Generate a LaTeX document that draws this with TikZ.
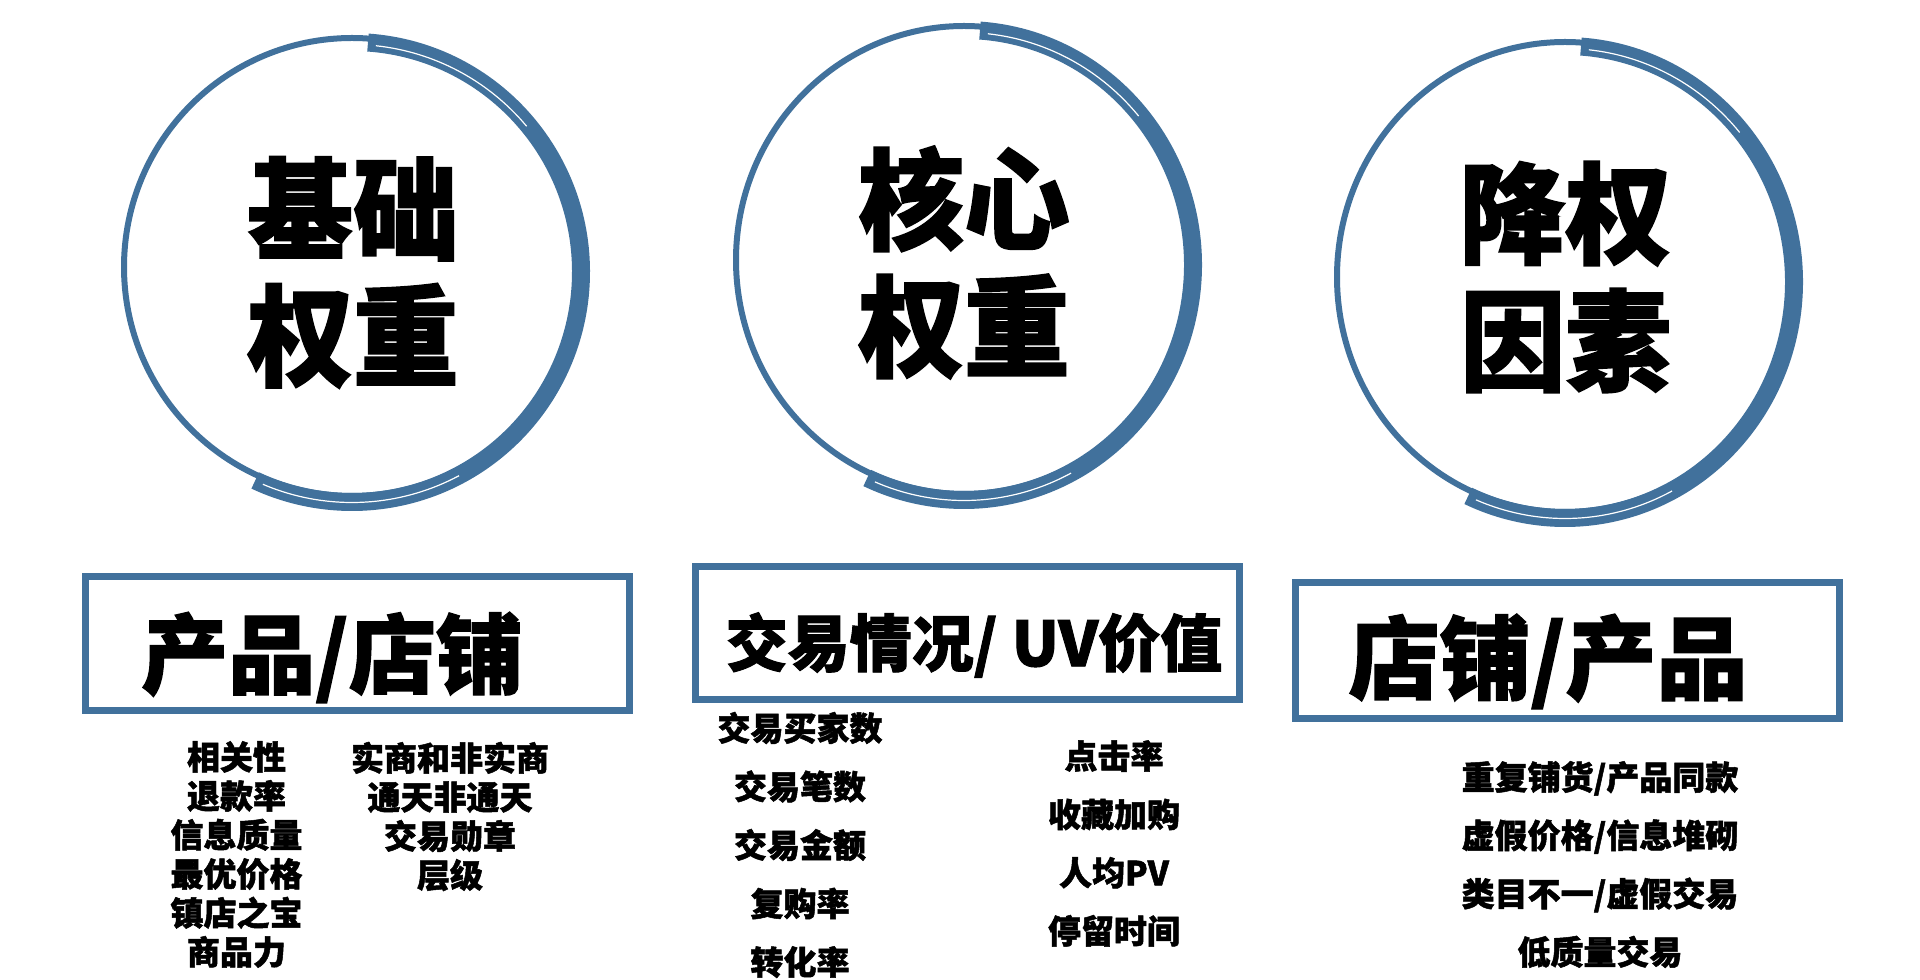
\documentclass[tikz,border=0pt]{standalone}
\usepackage{fontspec}
\newfontfamily\cjk{Noto Sans CJK SC}[BoldFeatures={FakeBold=1.5}]
\newfontfamily\cjkround{Noto Sans CJK SC}[FakeStretch=0.96, BoldFeatures={FakeBold=1.5}]
\usetikzlibrary{positioning}
\definecolor{ringblue}{RGB}{65,113,156}
\tikzset{
  ring/.style={draw=ringblue, line width=6pt},
  band/.style={draw=ringblue, line width=18pt},
  gap/.style={draw=white, line width=1.2pt},
  bigword/.style={font=\cjkround\bfseries\fontsize{110}{127}\selectfont, align=center, inner sep=0pt},
  panel/.style={draw=ringblue, line width=7pt, inner sep=0pt, minimum width=544pt, minimum height=134pt},
  headline/.style={font=\cjk\bfseries\fontsize{#1}{#1}\selectfont, inner sep=0pt},
  itemlist/.style={font=\cjk\bfseries\fontsize{33}{#1}\selectfont, align=center, inner sep=0pt}
}
\begin{document}
\begin{tikzpicture}[x=1pt, y=1pt]
\useasboundingbox (0,0) rectangle (1920,980);
\def\rad{228}
\def\ring#1#2{%
  \draw[ring] (#1) ellipse[x radius=\rad, y radius=#2];
  \draw[band, shift={(#1)}] (0,-5) ++(86:{\rad+1} and {#2+1}) arc[start angle=86, end angle=-115, x radius=\rad+1, y radius=#2+1];
  \draw[gap, shift={(#1)}] (0,-6.5) ++(84:{\rad} and {#2}) arc[start angle=84, end angle=40, x radius=\rad, y radius=#2];
  \draw[gap, shift={(#1)}] (0,-6.5) ++(-62:{\rad} and {#2}) arc[start angle=-62, end angle=-113, x radius=\rad, y radius=#2];}

% rings
\coordinate (base) at (352,713);
\coordinate (core) at (964,720);
\coordinate (drop) at (1565,703);
\ring{base}{229}
\ring{core}{234}
\ring{drop}{235}
\node[bigword] (basetext) at (353,707.5) {基础\\权重};
\node[bigword] (coretext) at (964,717.5) {核心\\权重};
\node[bigword] (droptext) at (1565.5,703) {降权\\因素};

% panels
\node[panel] (shop) at (357,336.5) {};
\node[panel, minimum height=133pt] (trade) at (967,347) {};
\node[panel, minimum height=136pt] (penalty) at (1567.5,329.5) {};
\node[headline=87] (shoptitle) at (332,322.5) {产品/店铺};
\node[headline=62] (tradetitle) at (974,335) {交易情况/ UV价值};
\node[headline=91] (penaltytitle) at (1548,318.5) {店铺/产品};

% lists
\node[itemlist=39] (shopleft) at (236.5,125.5)
  {相关性\\退款率\\信息质量\\最优价格\\镇店之宝\\商品力};
\node[itemlist=39] (shopright) at (450,163.5)
  {实商和非实商\\通天非通天\\交易勋章\\层级};
\node[itemlist=58.5] (tradeleft) at (800,135)
  {交易买家数\\交易笔数\\交易金额\\复购率\\转化率};
\node[itemlist=58.3] (traderight) at (1114,136.5)
  {点击率\\收藏加购\\人均PV\\停留时间};
\node[itemlist=58.3] (penaltylist) at (1600,115.5)
  {重复铺货/产品同款\\虚假价格/信息堆砌\\类目不一/虚假交易\\低质量交易};
\end{tikzpicture}
\end{document}
